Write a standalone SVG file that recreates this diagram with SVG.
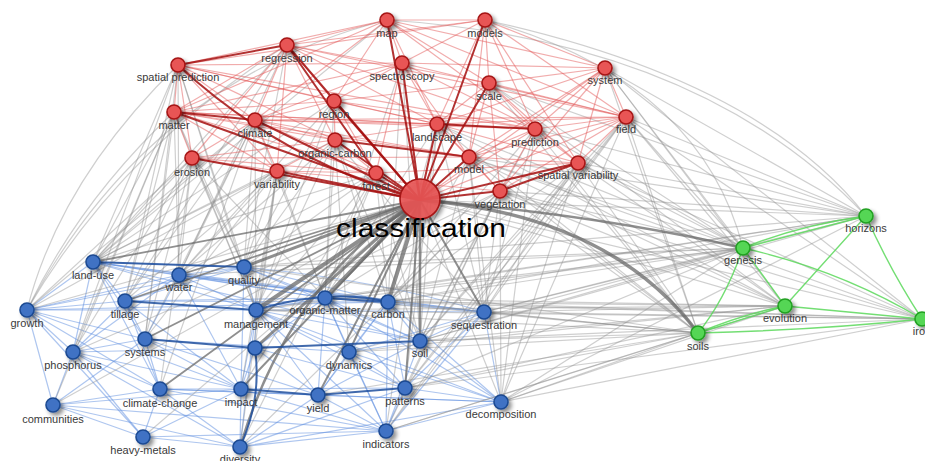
<svg xmlns="http://www.w3.org/2000/svg" width="925" height="461" viewBox="0 0 925 461">
<defs>
<filter id="sh" x="-60%" y="-60%" width="260%" height="260%">
<feGaussianBlur in="SourceAlpha" stdDeviation="2"/>
<feOffset dx="3" dy="3" result="b"/>
<feComponentTransfer><feFuncA type="linear" slope="0.45"/></feComponentTransfer>
<feMerge><feMergeNode/><feMergeNode in="SourceGraphic"/></feMerge>
</filter>
</defs>
<style>
.e path{fill:none;stroke-linecap:round}
.bl path{stroke:#5d8ee0;stroke-opacity:.5;stroke-width:1.2}
.bd path{stroke:#1f4f9e;stroke-opacity:.85;stroke-width:2}
.gr path{stroke:#8c8c8c;stroke-opacity:.42;stroke-width:1.2}
.gd path{stroke:#6a6a6a;stroke-opacity:.75}
.rl path{stroke:#e45a5a;stroke-opacity:.5;stroke-width:1.2}
.rd path{stroke:#a50e0e;stroke-opacity:.85;stroke-width:2}
.gn path{stroke:#5bd85b;stroke-opacity:.85;stroke-width:1.4}
.node circle{filter:url(#sh);stroke-width:1.6}
.red circle{fill:#e85454;stroke:#a51515}
.blue circle{fill:#3f72c4;stroke:#1c4a92}
.green circle{fill:#55d655;stroke:#22a022}
.node text{font-family:"Liberation Sans",Arial,sans-serif;font-size:11px;fill:#3a3a3a;text-anchor:middle}
#n-classification text{font-size:25px;fill:#000}
</style>
<rect width="925" height="461" fill="#fff"/>
<g id="connectors" class="e">
<g class="bl">
<path d="M93 262L179 275"/><path d="M93 262L244 267"/><path d="M93 262L27 310"/><path d="M93 262L125 301"/><path d="M93 262L256 310"/><path d="M93 262L325 298"/><path d="M93 262L388 302"/><path d="M93 262L145 339"/><path d="M93 262L73 352"/><path d="M93 262L160 389"/><path d="M93 262L484 312"/><path d="M93 262L420 341"/>
<path d="M179 275L244 267"/><path d="M179 275L125 301"/><path d="M179 275L256 310"/><path d="M179 275L325 298"/><path d="M179 275L388 302"/><path d="M179 275L484 312"/><path d="M179 275L145 339"/><path d="M179 275L241 389"/><path d="M179 275L27 310"/><path d="M179 275L73 352"/>
<path d="M244 267L256 310"/><path d="M244 267L325 298"/><path d="M244 267L388 302"/><path d="M244 267Q380 280 484 312"/><path d="M244 267L420 341"/><path d="M244 267L27 310"/><path d="M244 267L125 301"/><path d="M244 267L241 389"/>
<path d="M27 310L125 301"/><path d="M27 310L73 352"/><path d="M27 310L53 405"/><path d="M27 310L145 339"/><path d="M27 310L256 310"/><path d="M27 310L160 389"/><path d="M27 310L143 437"/><path d="M27 310L241 389"/><path d="M27 310L388 302"/>
<path d="M125 301L145 339"/><path d="M125 301L325 298"/><path d="M125 301L388 302"/><path d="M125 301L73 352"/><path d="M125 301L160 389"/><path d="M125 301L241 389"/>
<path d="M256 310L325 298"/><path d="M256 310L484 312"/><path d="M256 310L420 341"/><path d="M256 310L349 352"/><path d="M256 310L255 348"/><path d="M256 310L241 389"/><path d="M256 310L318 395"/><path d="M256 310L405 388"/><path d="M256 310L240 447"/><path d="M256 310L501 402"/><path d="M256 310L386 431"/>
<path d="M325 298L484 312"/><path d="M325 298L420 341"/><path d="M325 298L349 352"/><path d="M325 298L255 348"/><path d="M325 298L405 388"/><path d="M325 298L501 402"/><path d="M325 298L386 431"/><path d="M325 298L318 395"/>
<path d="M388 302L484 312"/><path d="M388 302L420 341"/><path d="M388 302L349 352"/><path d="M388 302L405 388"/><path d="M388 302L501 402"/><path d="M388 302L386 431"/><path d="M388 302L318 395"/>
<path d="M484 312L420 341"/><path d="M484 312L501 402"/><path d="M484 312L405 388"/><path d="M484 312L386 431"/><path d="M484 312L349 352"/>
<path d="M145 339L73 352"/><path d="M145 339L160 389"/><path d="M145 339L241 389"/><path d="M145 339L53 405"/><path d="M145 339L349 352"/><path d="M145 339L318 395"/>
<path d="M73 352L53 405"/><path d="M73 352L160 389"/><path d="M73 352L143 437"/><path d="M73 352L241 389"/><path d="M73 352L255 348"/><path d="M73 352L240 447"/>
<path d="M255 348L241 389"/><path d="M255 348L318 395"/><path d="M255 348L405 388"/>
<path d="M349 352L420 341"/><path d="M349 352L405 388"/><path d="M349 352L318 395"/><path d="M349 352L386 431"/><path d="M349 352L501 402"/>
<path d="M420 341L501 402"/><path d="M420 341L386 431"/><path d="M420 341L318 395"/>
<path d="M160 389L241 389"/><path d="M160 389L53 405"/><path d="M160 389L143 437"/><path d="M160 389L240 447"/><path d="M160 389L318 395"/><path d="M160 389L386 431"/><path d="M160 389L501 402"/>
<path d="M241 389L240 447"/><path d="M241 389L143 437"/><path d="M241 389L386 431"/><path d="M241 389L53 405"/><path d="M241 389L405 388"/>
<path d="M318 395L386 431"/><path d="M318 395L240 447"/><path d="M318 395L501 402"/>
<path d="M405 388L501 402"/><path d="M405 388L386 431"/><path d="M405 388L240 447"/>
<path d="M53 405L143 437"/><path d="M53 405L240 447"/><path d="M53 405L386 431"/>
<path d="M501 402L386 431"/><path d="M501 402L240 447"/><path d="M143 437L240 447"/><path d="M143 437L386 431"/><path d="M240 447L386 431"/>
</g>
<g class="gr">
<path d="M178 65Q60 180 27 310"/><path d="M178 65L93 262"/><path d="M178 65L125 301"/><path d="M178 65L179 275"/><path d="M178 65L244 267"/><path d="M178 65L73 352"/><path d="M178 65L145 339"/><path d="M178 65L256 310"/>
<path d="M174 112Q80 200 27 310"/><path d="M174 112L93 262"/><path d="M174 112L125 301"/><path d="M174 112L244 267"/><path d="M174 112L73 352"/><path d="M174 112L179 275"/><path d="M174 112L145 339"/><path d="M174 112L256 310"/><path d="M174 112L53 405"/>
<path d="M192 158L125 301"/><path d="M192 158L179 275"/><path d="M192 158L93 262"/><path d="M192 158L256 310"/><path d="M192 158L145 339"/><path d="M192 158L27 310"/><path d="M192 158L244 267"/><path d="M192 158L73 352"/><path d="M192 158L160 389"/><path d="M192 158L325 298"/>
<path d="M255 120L244 267"/><path d="M255 120L179 275"/><path d="M255 120L93 262"/><path d="M255 120L160 389"/><path d="M255 120L256 310"/><path d="M255 120L125 301"/><path d="M255 120L325 298"/><path d="M255 120L27 310"/><path d="M255 120L145 339"/>
<path d="M277 171L256 310"/><path d="M277 171L244 267"/><path d="M277 171L240 447"/><path d="M277 171L93 262"/><path d="M277 171L179 275"/><path d="M277 171L125 301"/><path d="M277 171L325 298"/><path d="M277 171L255 348"/><path d="M277 171L241 389"/><path d="M277 171L27 310"/><path d="M277 171L145 339"/>
<path d="M376 173L325 298"/><path d="M376 173L388 302"/><path d="M376 173L256 310"/><path d="M376 173L244 267"/><path d="M376 173L179 275"/><path d="M376 173L93 262"/><path d="M376 173L240 447"/><path d="M376 173L241 389"/><path d="M376 173L420 341"/>
<path d="M335 140L388 302"/><path d="M335 140L325 298"/><path d="M335 140L484 312"/><path d="M335 140L256 310"/><path d="M335 140L244 267"/><path d="M335 140L420 341"/><path d="M335 140L349 352"/><path d="M335 140L179 275"/><path d="M335 140L93 262"/>
<path d="M334 101L93 262"/><path d="M334 101L244 267"/><path d="M334 101L179 275"/><path d="M334 101L256 310"/><path d="M334 101L325 298"/>
<path d="M287 45L93 262"/><path d="M287 45Q120 150 27 310"/><path d="M287 45L179 275"/><path d="M287 45L244 267"/><path d="M287 45L125 301"/>
<path d="M387 20Q150 80 27 310"/><path d="M387 20L93 262"/><path d="M402 63L388 302"/><path d="M402 63L325 298"/>
<path d="M387 20Q700 40 866 216"/><path d="M485 20Q760 80 866 216"/><path d="M485 20Q700 80 743 248"/>
<path d="M605 68L866 216"/><path d="M605 68L743 248"/><path d="M605 68L785 306"/><path d="M605 68L698 333"/><path d="M605 68L922 319"/>
<path d="M626 117L866 216"/><path d="M626 117L743 248"/><path d="M626 117L785 306"/><path d="M626 117L922 319"/><path d="M626 117L698 333"/><path d="M626 117L501 402"/><path d="M626 117L484 312"/><path d="M626 117L420 341"/><path d="M626 117L405 388"/><path d="M626 117L386 431"/>
<path d="M578 163L743 248"/><path d="M578 163L698 333"/><path d="M578 163L785 306"/><path d="M578 163L922 319"/><path d="M578 163L866 216"/><path d="M578 163L484 312"/><path d="M578 163L501 402"/><path d="M578 163L405 388"/><path d="M578 163L420 341"/><path d="M578 163L388 302"/><path d="M578 163L386 431"/>
<path d="M500 191L698 333"/><path d="M500 191L743 248"/><path d="M500 191L866 216"/><path d="M500 191L785 306"/><path d="M500 191L922 319"/><path d="M500 191L501 402"/><path d="M500 191L386 431"/><path d="M500 191L484 312"/><path d="M500 191L240 447"/><path d="M500 191L420 341"/><path d="M500 191L388 302"/><path d="M500 191L405 388"/><path d="M500 191L325 298"/><path d="M500 191L256 310"/>
<path d="M469 157L698 333"/><path d="M469 157L743 248"/><path d="M469 157L785 306"/><path d="M469 157L866 216"/><path d="M469 157L922 319"/><path d="M469 157L484 312"/><path d="M469 157L388 302"/><path d="M469 157L420 341"/><path d="M469 157L501 402"/>
<path d="M535 129L743 248"/><path d="M535 129L698 333"/><path d="M535 129L866 216"/><path d="M535 129L501 402"/><path d="M535 129L484 312"/><path d="M535 129L388 302"/><path d="M535 129L420 341"/>
<path d="M437 124L420 341"/><path d="M437 124L405 388"/><path d="M437 124L743 248"/><path d="M437 124L388 302"/><path d="M437 124L484 312"/><path d="M437 124L325 298"/><path d="M437 124L698 333"/><path d="M437 124L785 306"/>
<path d="M489 83L743 248"/><path d="M489 83L866 216"/><path d="M489 83L785 306"/><path d="M489 83L698 333"/><path d="M402 63L420 341"/>
<path d="M420 200L866 216"/><path d="M420 200L785 306"/><path d="M420 200L922 319"/>
<path d="M420 200L501 402"/><path d="M420 200L386 431"/><path d="M420 200L27 310"/><path d="M420 200L73 352"/><path d="M420 200L53 405"/><path d="M420 200L143 437"/>
<path d="M698 333L484 312"/><path d="M698 333L501 402"/><path d="M698 333L420 341"/><path d="M698 333L388 302"/><path d="M698 333L405 388"/><path d="M698 333L386 431"/><path d="M698 333L325 298"/><path d="M698 333L349 352"/><path d="M698 333L256 310"/><path d="M698 333L318 395"/><path d="M698 333L244 267"/>
<path d="M743 248L388 302"/><path d="M743 248L484 312"/><path d="M743 248L256 310"/><path d="M743 248L420 341"/><path d="M743 248L325 298"/><path d="M743 248L501 402"/><path d="M743 248L244 267"/><path d="M743 248L179 275"/><path d="M743 248L349 352"/><path d="M743 248L405 388"/>
<path d="M785 306L256 310"/><path d="M785 306L484 312"/><path d="M785 306L349 352"/><path d="M785 306L405 388"/><path d="M785 306L501 402"/><path d="M785 306L420 341"/><path d="M785 306L388 302"/><path d="M785 306L325 298"/><path d="M785 306L386 431"/>
<path d="M866 216L484 312"/><path d="M866 216L420 341"/><path d="M866 216L388 302"/><path d="M866 216L501 402"/><path d="M866 216L256 310"/><path d="M866 216L325 298"/><path d="M866 216L244 267"/>
<path d="M922 319L484 312"/><path d="M922 319L420 341"/><path d="M922 319L405 388"/><path d="M922 319L388 302"/><path d="M922 319L501 402"/><path d="M922 319L256 310"/><path d="M922 319L325 298"/>
</g>
<g class="gd">
<path d="M420 200Q610 215 698 333" stroke-width="3.5"/>
<path d="M420 200Q600 215 743 248" stroke-width="2.5"/>
<path d="M420 200L256 310" stroke-width="4"/><path d="M420 200L325 298" stroke-width="4"/><path d="M420 200L388 302" stroke-width="4"/>
<path d="M420 200L420 341" stroke-width="2.5"/><path d="M420 200L244 267" stroke-width="3"/><path d="M420 200Q290 280 240 447" stroke-width="2.5"/>
<path d="M420 200L255 348" stroke-width="3"/><path d="M420 200L349 352" stroke-width="2"/><path d="M420 200L405 388" stroke-width="2"/>
<path d="M420 200L318 395" stroke-width="2"/><path d="M420 200L241 389" stroke-width="2"/><path d="M420 200L484 312" stroke-width="2"/>
<path d="M420 200L125 301" stroke-width="1.8"/><path d="M420 200L179 275" stroke-width="1.8"/><path d="M420 200L93 262" stroke-width="1.8"/>
<path d="M420 200L145 339" stroke-width="1.8"/><path d="M420 200L160 389" stroke-width="1.8"/>
</g>
<g class="bd">
<path d="M325 298L388 302" stroke-width="2.5"/><path d="M256 310Q330 288 388 302"/><path d="M255 348L420 341"/>
<path d="M145 339L255 348"/><path d="M318 395L405 388"/><path d="M241 389L318 395"/><path d="M240 447Q262 400 255 348"/>
<path d="M93 262L244 267" stroke-width="1.5"/><path d="M125 301L256 310" stroke-width="1.5"/>
</g>
<g class="rl">
<path d="M387 20L485 20"/><path d="M387 20L287 45"/><path d="M387 20L402 63"/><path d="M387 20L178 65"/><path d="M387 20L605 68"/><path d="M387 20L626 117"/><path d="M387 20L535 129"/><path d="M387 20L437 124"/><path d="M387 20L334 101"/><path d="M387 20L255 120"/><path d="M387 20L174 112"/><path d="M387 20L489 83"/>
<path d="M485 20L287 45"/><path d="M485 20L605 68"/><path d="M485 20L626 117"/><path d="M485 20L489 83"/><path d="M485 20L535 129"/><path d="M485 20L402 63"/><path d="M485 20L178 65"/><path d="M485 20L469 157"/><path d="M485 20L437 124"/><path d="M485 20L578 163"/>
<path d="M287 45L174 112"/><path d="M287 45L255 120"/><path d="M287 45L334 101"/><path d="M287 45L335 140"/><path d="M287 45L437 124"/><path d="M287 45L535 129"/><path d="M287 45L626 117"/><path d="M287 45L192 158"/><path d="M287 45L277 171"/><path d="M287 45L489 83"/>
<path d="M402 63L334 101"/><path d="M402 63L437 124"/><path d="M402 63L535 129"/><path d="M402 63L626 117"/><path d="M402 63L605 68"/><path d="M402 63L255 120"/><path d="M402 63L469 157"/><path d="M402 63L376 173"/><path d="M402 63L174 112"/>
<path d="M178 65L174 112"/><path d="M178 65L192 158"/><path d="M178 65L255 120"/><path d="M178 65L334 101"/><path d="M178 65L437 124"/><path d="M178 65L335 140"/><path d="M178 65L535 129"/><path d="M178 65L277 171"/><path d="M178 65L402 63"/>
<path d="M605 68L626 117"/><path d="M605 68L535 129"/><path d="M605 68L489 83"/><path d="M605 68L578 163"/><path d="M605 68L500 191"/><path d="M605 68L437 124"/><path d="M605 68L469 157"/>
<path d="M489 83L535 129"/><path d="M489 83L626 117"/><path d="M489 83L437 124"/><path d="M489 83L469 157"/><path d="M489 83L334 101"/><path d="M489 83L578 163"/><path d="M489 83L500 191"/>
<path d="M334 101L255 120"/><path d="M334 101L335 140"/><path d="M334 101L437 124"/><path d="M334 101L535 129"/><path d="M334 101L376 173"/><path d="M334 101L174 112"/>
<path d="M174 112L192 158"/><path d="M174 112L335 140"/><path d="M174 112L437 124"/><path d="M174 112L535 129"/><path d="M174 112L277 171"/><path d="M174 112L376 173"/><path d="M174 112L469 157"/>
<path d="M437 124L469 157"/><path d="M437 124L626 117"/><path d="M437 124L335 140"/><path d="M437 124L578 163"/><path d="M437 124L255 120"/><path d="M437 124L500 191"/>
<path d="M626 117L535 129"/><path d="M626 117L578 163"/><path d="M626 117L500 191"/><path d="M626 117L469 157"/><path d="M626 117L255 120"/>
<path d="M255 120L192 158"/><path d="M255 120L335 140"/><path d="M255 120L277 171"/><path d="M255 120L535 129"/><path d="M255 120L376 173"/><path d="M255 120L469 157"/>
<path d="M535 129L578 163"/><path d="M535 129L469 157"/><path d="M535 129L500 191"/>
<path d="M335 140L192 158"/><path d="M335 140L277 171"/><path d="M335 140L376 173"/>
<path d="M469 157L578 163"/><path d="M469 157L500 191"/><path d="M469 157L192 158"/>
<path d="M192 158L277 171"/><path d="M192 158L376 173"/><path d="M277 171L376 173"/><path d="M500 191L277 171"/><path d="M578 163L376 173"/>
<path d="M420 200L535 129" stroke="#e05a5a" stroke-width="6" stroke-opacity=".6"/>
<path d="M420 200L626 117" stroke-width="1.6"/><path d="M420 200L605 68" stroke-width="1.6"/>
</g>
<g class="rd">
<path d="M437 124L535 129"/><path d="M335 140L469 157"/><path d="M578 163L500 191"/><path d="M287 45L376 173"/><path d="M178 65L287 45" stroke-width="1.5"/><path d="M174 112L255 120" stroke-width="1.5"/>
<path d="M420 200Q280 160 178 65" stroke-width="3.5"/>
<path d="M420 200L174 112"/><path d="M420 200L192 158" stroke-width="2.5"/><path d="M420 200L287 45"/><path d="M420 200L334 101"/><path d="M420 200L335 140"/>
<path d="M420 200L376 173" stroke-width="3"/><path d="M420 200L277 171" stroke-width="2.5"/><path d="M420 200L387 20"/><path d="M420 200L402 63"/>
<path d="M420 200L485 20"/><path d="M420 200L489 83"/><path d="M420 200L437 124" stroke-width="1.5"/><path d="M420 200L469 157"/>
<path d="M420 200L500 191" stroke-width="3"/><path d="M420 200L578 163"/><path d="M420 200L255 120" stroke-width="1.5"/>
</g>
<g class="gn">
<path d="M743 248L866 216"/><path d="M743 248Q800 225 866 216"/><path d="M743 248L785 306"/><path d="M743 248Q725 300 698 333"/><path d="M743 248Q840 270 922 319"/>
<path d="M785 306L698 333"/><path d="M785 306Q740 315 698 333"/><path d="M785 306L922 319"/><path d="M785 306L866 216"/><path d="M866 216Q890 270 922 319"/><path d="M698 333Q820 330 922 319"/>
</g>
</g>
<g id="nodes">
<g id="n-map" class="node red"><circle cx="387" cy="20" r="7"/><text x="387" y="37">map</text></g>
<g id="n-models" class="node red"><circle cx="485" cy="20" r="7"/><text x="485" y="37">models</text></g>
<g id="n-regression" class="node red"><circle cx="287" cy="45" r="7"/><text x="287" y="62">regression</text></g>
<g id="n-spectroscopy" class="node red"><circle cx="402" cy="63" r="7"/><text x="402" y="80">spectroscopy</text></g>
<g id="n-spatial-prediction" class="node red"><circle cx="178" cy="65" r="7"/><text x="178" y="81">spatial prediction</text></g>
<g id="n-system" class="node red"><circle cx="605" cy="68" r="7"/><text x="605" y="84">system</text></g>
<g id="n-scale" class="node red"><circle cx="489" cy="83" r="7"/><text x="489" y="100">scale</text></g>
<g id="n-region" class="node red"><circle cx="334" cy="101" r="7"/><text x="334" y="118">region</text></g>
<g id="n-matter" class="node red"><circle cx="174" cy="112" r="7"/><text x="174" y="129">matter</text></g>
<g id="n-landscape" class="node red"><circle cx="437" cy="124" r="7"/><text x="437" y="141">landscape</text></g>
<g id="n-field" class="node red"><circle cx="626" cy="117" r="7"/><text x="626" y="133">field</text></g>
<g id="n-climate" class="node red"><circle cx="255" cy="120" r="7"/><text x="255" y="137">climate</text></g>
<g id="n-prediction" class="node red"><circle cx="535" cy="129" r="7"/><text x="535" y="146">prediction</text></g>
<g id="n-organic-carbon" class="node red"><circle cx="335" cy="140" r="7"/><text x="335" y="157">organic-carbon</text></g>
<g id="n-model" class="node red"><circle cx="469" cy="157" r="7"/><text x="469" y="173">model</text></g>
<g id="n-erosion" class="node red"><circle cx="192" cy="158" r="7"/><text x="192" y="176">erosion</text></g>
<g id="n-spatial-variability" class="node red"><circle cx="578" cy="163" r="7"/><text x="578" y="179">spatial variability</text></g>
<g id="n-variability" class="node red"><circle cx="277" cy="171" r="7"/><text x="277" y="188">variability</text></g>
<g id="n-forest" class="node red"><circle cx="376" cy="173" r="7"/><text x="376" y="190">forest</text></g>
<g id="n-vegetation" class="node red"><circle cx="500" cy="191" r="7"/><text x="500" y="208">vegetation</text></g>
<g id="n-classification" class="node red"><circle cx="420" cy="199" r="20" fill-opacity=".9"/><text x="421" y="237" textLength="170" lengthAdjust="spacingAndGlyphs">classification</text></g>
<g id="n-land-use" class="node blue"><circle cx="93" cy="262" r="7"/><text x="93" y="279">land-use</text></g>
<g id="n-water" class="node blue"><circle cx="179" cy="275" r="7"/><text x="179" y="291">water</text></g>
<g id="n-quality" class="node blue"><circle cx="244" cy="267" r="7"/><text x="244" y="284">quality</text></g>
<g id="n-growth" class="node blue"><circle cx="27" cy="310" r="7"/><text x="27" y="327">growth</text></g>
<g id="n-tillage" class="node blue"><circle cx="125" cy="301" r="7"/><text x="125" y="318">tillage</text></g>
<g id="n-management" class="node blue"><circle cx="256" cy="310" r="7"/><text x="256" y="328">management</text></g>
<g id="n-organic-matter" class="node blue"><circle cx="325" cy="298" r="7"/><text x="325" y="314">organic-matter</text></g>
<g id="n-carbon" class="node blue"><circle cx="388" cy="302" r="7"/><text x="388" y="318">carbon</text></g>
<g id="n-sequestration" class="node blue"><circle cx="484" cy="312" r="7"/><text x="484" y="329">sequestration</text></g>
<g id="n-systems" class="node blue"><circle cx="145" cy="339" r="7"/><text x="145" y="356">systems</text></g>
<g id="n-phosphorus" class="node blue"><circle cx="73" cy="352" r="7"/><text x="73" y="369">phosphorus</text></g>
<g id="n-unlabeled" class="node blue"><circle cx="255" cy="348" r="7"/></g>
<g id="n-dynamics" class="node blue"><circle cx="349" cy="352" r="7"/><text x="349" y="369">dynamics</text></g>
<g id="n-soil" class="node blue"><circle cx="420" cy="341" r="7"/><text x="420" y="357">soil</text></g>
<g id="n-climate-change" class="node blue"><circle cx="160" cy="389" r="7"/><text x="160" y="407">climate-change</text></g>
<g id="n-impact" class="node blue"><circle cx="241" cy="389" r="7"/><text x="241" y="406">impact</text></g>
<g id="n-yield" class="node blue"><circle cx="318" cy="395" r="7"/><text x="318" y="412">yield</text></g>
<g id="n-patterns" class="node blue"><circle cx="405" cy="388" r="7"/><text x="405" y="405">patterns</text></g>
<g id="n-communities" class="node blue"><circle cx="53" cy="405" r="7"/><text x="53" y="423">communities</text></g>
<g id="n-decomposition" class="node blue"><circle cx="501" cy="402" r="7"/><text x="501" y="418">decomposition</text></g>
<g id="n-heavy-metals" class="node blue"><circle cx="143" cy="437" r="7"/><text x="143" y="454">heavy-metals</text></g>
<g id="n-diversity" class="node blue"><circle cx="240" cy="447" r="7"/><text x="240" y="463">diversity</text></g>
<g id="n-indicators" class="node blue"><circle cx="386" cy="431" r="7"/><text x="386" y="448">indicators</text></g>
<g id="n-horizons" class="node green"><circle cx="866" cy="216" r="7"/><text x="866" y="232">horizons</text></g>
<g id="n-genesis" class="node green"><circle cx="743" cy="248" r="7"/><text x="743" y="264">genesis</text></g>
<g id="n-evolution" class="node green"><circle cx="785" cy="306" r="7"/><text x="785" y="322">evolution</text></g>
<g id="n-soils" class="node green"><circle cx="698" cy="333" r="7"/><text x="698" y="350">soils</text></g>
<g id="n-iron" class="node green"><circle cx="922" cy="319" r="7"/><text x="922" y="335">iron</text></g>
</g>
</svg>
